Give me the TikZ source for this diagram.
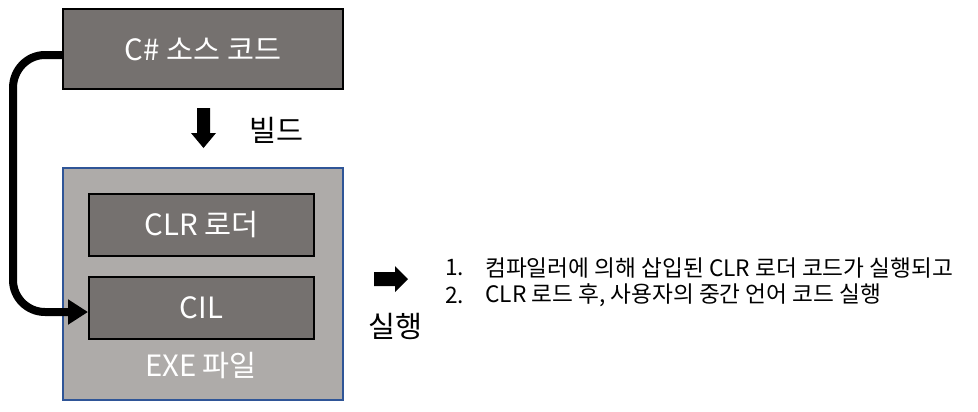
\documentclass[tikz,border=0pt]{standalone}
\usepackage{fontspec}
\setmainfont{Noto Sans CJK KR}
\usetikzlibrary{arrows.meta}
\definecolor{darkbox}{HTML}{75716F}
\definecolor{lightbox}{HTML}{AEABA9}
\definecolor{blueedge}{HTML}{2F5597}
\begin{document}
\begin{tikzpicture}[x=0.75pt,y=-0.75pt,
  darkfill/.style={draw=black,line width=1.5pt,fill=darkbox,text=white,font=\fontsize{22}{24}\selectfont},
  plain/.style={text=black,font=\fontsize{22}{24}\selectfont},
  listtxt/.style={text=black,font=\fontsize{17}{19}\selectfont,anchor=west,inner sep=0pt}]
\useasboundingbox (0,0) rectangle (978,411);
\node[darkfill,minimum width=280*0.75pt,minimum height=80*0.75pt,inner sep=0pt] (src) at (203,49) {C\# 소스 코드};
\node[draw=blueedge,line width=1.2pt,fill=lightbox,minimum width=280*0.75pt,minimum height=232*0.75pt,inner sep=0pt] (exe) at (203,284) {};
\node[darkfill,minimum width=225*0.75pt,minimum height=62*0.75pt,inner sep=0pt] (clr) at (201.5,225) {CLR 로더};
\node[darkfill,minimum width=225*0.75pt,minimum height=62*0.75pt,inner sep=0pt] (cil) at (201.5,308) {CIL};
\node[text=white,font=\fontsize{22}{24}\selectfont] (exelbl) at (201,366) {EXE 파일};
% build arrow
\fill[black] (197,108) -- (210,108) -- (210,133) -- (216,133) -- (203.5,148) -- (191,133) -- (197,133) -- cycle;
\node[plain] (build) at (276,130) {빌드};
% connector
\draw[line width=6pt,-{Triangle[length=15pt,width=18pt]}] (src.west |- 0,55) -- (45,55) to[out=180,in=90] (13,88) -- (13,280) to[out=-90,in=180] (45,312) -- (cil.west |- 0,312);
% run arrow
\fill[black] (374,272) -- (395,272) -- (395,266) -- (408,279) -- (395,292) -- (395,286) -- (374,286) -- cycle;
\node[plain] (run) at (395,326) {실행};
\node[listtxt] (n1) at (445,268) {1.};
\node[listtxt] (t1) at (485,268) {컴파일러에 의해 삽입된 CLR 로더 코드가 실행되고};
\node[listtxt] (n2) at (445,295) {2.};
\node[listtxt] (t2) at (485,295) {CLR 로드 후, 사용자의 중간 언어 코드 실행};
\end{tikzpicture}
\end{document}
